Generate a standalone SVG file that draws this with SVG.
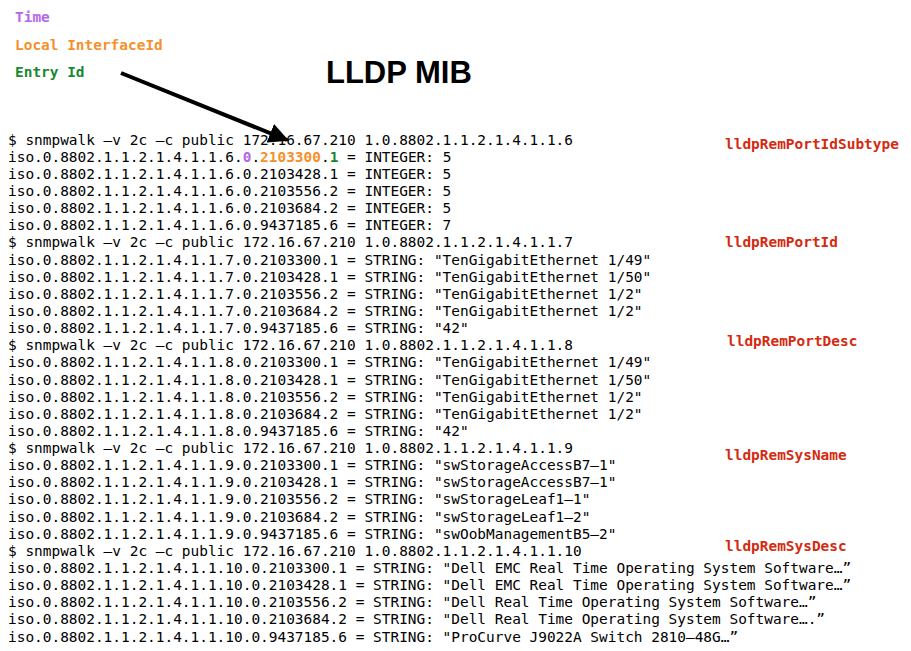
<svg xmlns="http://www.w3.org/2000/svg" width="911" height="651" viewBox="0 0 911 651">
<defs>
<style>
.m{font-family:"DejaVu Sans Mono","Liberation Mono",monospace;font-size:14.45px;fill:#000;white-space:pre}
.b{font-weight:bold}
.lbl{font-family:"DejaVu Sans Mono","Liberation Mono",monospace;font-size:14.45px;font-weight:bold;fill:#d42a10}
.pu{fill:#b467e6}
.or{fill:#f5902a}
.gr{fill:#17882f}
.title{font-family:"Liberation Sans",Arial,sans-serif;font-size:31px;font-weight:bold;fill:#000}
</style>
<marker id="ah" viewBox="0 0 10 10" refX="9" refY="5" markerWidth="5" markerHeight="5" orient="auto" markerUnits="strokeWidth">
<path d="M0,0 L10,5 L0,10 z" fill="#000"/>
</marker>
</defs>
<rect width="911" height="651" fill="#fff"/>
<g id="legend">
<text class="m b pu" x="15" y="22">Time</text>
<text class="m b or" x="15" y="50">Local InterfaceId</text>
<text class="m b gr" x="15" y="77">Entry Id</text>
</g>
<g id="title"><text class="title" x="326" y="83">LLDP MIB</text></g>
<g id="connectors">
<line x1="121" y1="73" x2="287" y2="140" stroke="#000" stroke-width="4" marker-end="url(#ah)"/>
</g>
<g id="output">
<text class="m" x="8" y="144.5">$ snmpwalk –v 2c –c public 172.16.67.210 1.0.8802.1.1.2.1.4.1.1.6</text>
<text class="m" x="8" y="161.6">iso.0.8802.1.1.2.1.4.1.1.6.<tspan class="b pu">0</tspan>.<tspan class="b or">2103300</tspan>.<tspan class="b gr">1</tspan> = INTEGER: 5</text>
<text class="m" x="8" y="178.8">iso.0.8802.1.1.2.1.4.1.1.6.0.2103428.1 = INTEGER: 5</text>
<text class="m" x="8" y="195.9">iso.0.8802.1.1.2.1.4.1.1.6.0.2103556.2 = INTEGER: 5</text>
<text class="m" x="8" y="213.1">iso.0.8802.1.1.2.1.4.1.1.6.0.2103684.2 = INTEGER: 5</text>
<text class="m" x="8" y="230.2">iso.0.8802.1.1.2.1.4.1.1.6.0.9437185.6 = INTEGER: 7</text>
<text class="m" x="8" y="247.3">$ snmpwalk –v 2c –c public 172.16.67.210 1.0.8802.1.1.2.1.4.1.1.7</text>
<text class="m" x="8" y="264.5">iso.0.8802.1.1.2.1.4.1.1.7.0.2103300.1 = STRING: "TenGigabitEthernet 1/49"</text>
<text class="m" x="8" y="281.6">iso.0.8802.1.1.2.1.4.1.1.7.0.2103428.1 = STRING: "TenGigabitEthernet 1/50"</text>
<text class="m" x="8" y="298.8">iso.0.8802.1.1.2.1.4.1.1.7.0.2103556.2 = STRING: "TenGigabitEthernet 1/2"</text>
<text class="m" x="8" y="315.9">iso.0.8802.1.1.2.1.4.1.1.7.0.2103684.2 = STRING: "TenGigabitEthernet 1/2"</text>
<text class="m" x="8" y="333.0">iso.0.8802.1.1.2.1.4.1.1.7.0.9437185.6 = STRING: "42"</text>
<text class="m" x="8" y="350.2">$ snmpwalk –v 2c –c public 172.16.67.210 1.0.8802.1.1.2.1.4.1.1.8</text>
<text class="m" x="8" y="367.3">iso.0.8802.1.1.2.1.4.1.1.8.0.2103300.1 = STRING: "TenGigabitEthernet 1/49"</text>
<text class="m" x="8" y="384.5">iso.0.8802.1.1.2.1.4.1.1.8.0.2103428.1 = STRING: "TenGigabitEthernet 1/50"</text>
<text class="m" x="8" y="401.6">iso.0.8802.1.1.2.1.4.1.1.8.0.2103556.2 = STRING: "TenGigabitEthernet 1/2"</text>
<text class="m" x="8" y="418.7">iso.0.8802.1.1.2.1.4.1.1.8.0.2103684.2 = STRING: "TenGigabitEthernet 1/2"</text>
<text class="m" x="8" y="435.9">iso.0.8802.1.1.2.1.4.1.1.8.0.9437185.6 = STRING: "42"</text>
<text class="m" x="8" y="453.0">$ snmpwalk –v 2c –c public 172.16.67.210 1.0.8802.1.1.2.1.4.1.1.9</text>
<text class="m" x="8" y="470.2">iso.0.8802.1.1.2.1.4.1.1.9.0.2103300.1 = STRING: "swStorageAccessB7–1"</text>
<text class="m" x="8" y="487.3">iso.0.8802.1.1.2.1.4.1.1.9.0.2103428.1 = STRING: "swStorageAccessB7–1"</text>
<text class="m" x="8" y="504.4">iso.0.8802.1.1.2.1.4.1.1.9.0.2103556.2 = STRING: "swStorageLeaf1–1"</text>
<text class="m" x="8" y="521.6">iso.0.8802.1.1.2.1.4.1.1.9.0.2103684.2 = STRING: "swStorageLeaf1–2"</text>
<text class="m" x="8" y="538.7">iso.0.8802.1.1.2.1.4.1.1.9.0.9437185.6 = STRING: "swOobManagementB5–2"</text>
<text class="m" x="8" y="555.9">$ snmpwalk –v 2c –c public 172.16.67.210 1.0.8802.1.1.2.1.4.1.1.10</text>
<text class="m" x="8" y="573.0">iso.0.8802.1.1.2.1.4.1.1.10.0.2103300.1 = STRING: "Dell EMC Real Time Operating System Software…”</text>
<text class="m" x="8" y="590.1">iso.0.8802.1.1.2.1.4.1.1.10.0.2103428.1 = STRING: "Dell EMC Real Time Operating System Software…”</text>
<text class="m" x="8" y="607.3">iso.0.8802.1.1.2.1.4.1.1.10.0.2103556.2 = STRING: "Dell Real Time Operating System Software…”</text>
<text class="m" x="8" y="624.4">iso.0.8802.1.1.2.1.4.1.1.10.0.2103684.2 = STRING: "Dell Real Time Operating System Software….”</text>
<text class="m" x="8" y="641.6">iso.0.8802.1.1.2.1.4.1.1.10.0.9437185.6 = STRING: "ProCurve J9022A Switch 2810–48G…”</text>
</g>
<g id="labels">
<text class="lbl" x="725" y="149">lldpRemPortIdSubtype</text>
<text class="lbl" x="725" y="247">lldpRemPortId</text>
<text class="lbl" x="727" y="346">lldpRemPortDesc</text>
<text class="lbl" x="725" y="460">lldpRemSysName</text>
<text class="lbl" x="725" y="551">lldpRemSysDesc</text>
</g>
</svg>
